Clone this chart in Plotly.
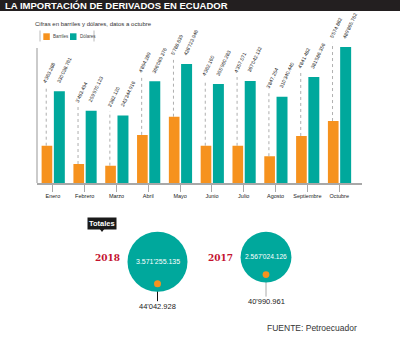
import math
import plotly.graph_objects as go

# ---------------- data ----------------
months = ["Enero", "Febrero", "Marzo", "Abril", "Mayo", "Junio", "Julio",
          "Agosto", "Septiembre", "Octubre"]
barriles = [4363.288, 3463.494, 3382.120, 4894.289, 5788.639, 4362.160,
            4357.071, 3847.254, 4841.482, 5574.882]          # miles de barriles
dolares = [330038.761, 259970.123, 243344.916, 366089.376, 428723.946,
           355960.283, 367042.132, 310340.440, 381586.356, 489865.762]  # miles de USD
barriles_lbl = ["4'363.288", "3'463.494", "3'382.120", "4'894.289", "5'788.639",
                "4'362.160", "4'357.071", "3'847.254", "4'841.482", "5'574.882"]
dolares_lbl = ["330'038.761", "259'970.123", "243'344.916", "366'089.376",
               "428'723.946", "355'960.283", "367'042.132", "310'340.440",
               "381'586.356", "489'865.762"]

years = ["2018", "2017"]
total_dolares = [3571255.135, 2567024.126]
total_barriles = [44042.928, 40990.961]
total_dol_lbl = ["3.571'255.135", "2.567'024.126"]
total_bar_lbl = ["44'042.928", "40'990.961"]

# ---------------- styling / layout constants ----------------
W, H = 400, 337
ORANGE = "#F6921E"
TEAL = "#00A89C"
RED = "#C4122F"
DARK = "#1a1a1a"
GREY = "#A8A8A8"
FONT = "Liberation Sans, Arial, sans-serif"


def px_x(x):
    return x / W


def px_y(y):
    return 1 - y / H


PLOT_L, PLOT_R, PLOT_T, PLOT_B = 37, 361.5, 40, 183
PH = PLOT_B - PLOT_T
Y_RANGE = [0, PH * 3600]
Y2_RANGE = [2530, 2530 + PH / 0.02035]


def dol_to_y2(d, extra_px=0.0):
    frac = (d - Y_RANGE[0]) / (Y_RANGE[1] - Y_RANGE[0])
    span2 = Y2_RANGE[1] - Y2_RANGE[0]
    return Y2_RANGE[0] + frac * span2 + extra_px * span2 / PH


fig = go.Figure()

fig.add_trace(go.Bar(
    x=months, y=barriles, name="Barriles", marker=dict(color=ORANGE, line=dict(width=0)),
    yaxis="y2", width=0.335, offset=-0.355, hoverinfo="skip", showlegend=False))
fig.add_trace(go.Bar(
    x=months, y=dolares, name="Dólares", marker=dict(color=TEAL, line=dict(width=0)),
    yaxis="y", width=0.345, offset=0.03, hoverinfo="skip", showlegend=False))

annotations = []
shapes = []

LBL_FONT = dict(family=FONT, size=5, color=DARK)
for m, b, d, bl, dl in zip(months, barriles, dolares, barriles_lbl, dolares_lbl):
    annotations.append(dict(x=m, y=d, xref="x", yref="y", text=dl, showarrow=False,
                            textangle=-65, xanchor="center", yanchor="bottom",
                            xshift=11, yshift=5, font=LBL_FONT))
    annotations.append(dict(x=m, y=d, xref="x", yref="y", text=bl, showarrow=False,
                            textangle=-65, xanchor="center", yanchor="bottom",
                            xshift=-3.5, yshift=5, font=LBL_FONT))
    shapes.append(dict(type="line", xref="x", yref="y2", x0=m, x1=m,
                       x0shift=-0.21, x1shift=-0.21,
                       y0=b, y1=dol_to_y2(d, 4),
                       line=dict(color="#9a9a9a", width=0.8, dash="dot"), layer="below"))

# y axis line
shapes.append(dict(type="line", xref="paper", yref="paper",
                   x0=px_x(PLOT_L), x1=px_x(PLOT_L), y0=px_y(PLOT_B), y1=px_y(48),
                   line=dict(color=GREY, width=1.2)))

# title band
shapes.append(dict(type="rect", xref="paper", yref="paper", x0=0, x1=1,
                   y0=px_y(11), y1=1, fillcolor="#231F20", line=dict(width=0), layer="below"))
annotations.append(dict(x=px_x(3), y=px_y(5.5), xref="paper", yref="paper",
                        text="<b>LA IMPORTACIÓN DE DERIVADOS EN ECUADOR</b>",
                        showarrow=False, xanchor="left", yanchor="middle",
                        font=dict(family=FONT, size=9.5, color="white")))
annotations.append(dict(x=px_x(33), y=px_y(24), xref="paper", yref="paper",
                        text="Cifras en barriles y dólares, datos a octubre",
                        showarrow=False, xanchor="left", yanchor="middle",
                        font=dict(family=FONT, size=6, color="#333333")))

# manual legend
for xl in (40, 94):
    shapes.append(dict(type="line", xref="paper", yref="paper", x0=px_x(xl), x1=px_x(xl),
                       y0=px_y(41.5), y1=px_y(30.5), line=dict(color=GREY, width=0.8)))
for x0, col, name in ((43.3, ORANGE, "Barriles"), (70, TEAL, "Dólares")):
    shapes.append(dict(type="rect", xref="paper", yref="paper", x0=px_x(x0), x1=px_x(x0 + 6.5),
                       y0=px_y(40), y1=px_y(33.3), fillcolor=col, line=dict(width=0)))
    annotations.append(dict(x=px_x(x0 + 8), y=px_y(36.8), xref="paper", yref="paper",
                            text=name, showarrow=False, xanchor="left", yanchor="middle",
                            font=dict(family=FONT, size=4.5, color="#444444")))

# ---------------- totals bubbles ----------------
# plotly area mode: diameter = sqrt(2 * v / sizeref)
BUB_DIAM = 60
sizeref_d = 2 * total_dolares[0] / BUB_DIAM ** 2
DOT_DIAM = 7
sizeref_b = 2 * total_barriles[0] / DOT_DIAM ** 2
TOP_Y3 = 337 - 231.7
radii = [math.sqrt(2 * v / sizeref_d) / 2 for v in total_dolares]
centers = [TOP_Y3 - r for r in radii]
dot_y = [c - (r - 8) for c, r in zip(centers, radii)]

fig.add_trace(go.Scatter(
    x=years, y=centers, mode="markers", xaxis="x3", yaxis="y3",
    marker=dict(size=total_dolares, sizemode="area", sizeref=sizeref_d,
                color=TEAL, opacity=1, line=dict(width=0)),
    hoverinfo="skip", showlegend=False, cliponaxis=False))
fig.add_trace(go.Scatter(
    x=years, y=dot_y, mode="markers", xaxis="x3", yaxis="y3",
    marker=dict(size=total_barriles, sizemode="area", sizeref=sizeref_b,
                color=ORANGE, opacity=1, line=dict(width=0)),
    hoverinfo="skip", showlegend=False, cliponaxis=False))

line_cols = ["#111111", "#AAAAAA"]
for i, (yr, c, r, dy, dl, bl, lc) in enumerate(zip(years, centers, radii, dot_y, total_dol_lbl,
                                                    total_bar_lbl, line_cols)):
    shapes.append(dict(type="line", xref="x3", yref="y3", x0=i, x1=i,
                       y0=dy, y1=c - 39.5, line=dict(color=lc, width=1), layer="below"))
    annotations.append(dict(x=i, y=c + 0.5, xref="x3", yref="y3", text=dl,
                            showarrow=False, xanchor="center", yanchor="middle",
                            font=dict(family=FONT, size=4.6 + r / 12.5, color="white")))
    annotations.append(dict(x=i, y=c - 44.5, xref="x3", yref="y3", text=bl,
                            showarrow=False, xanchor="center", yanchor="middle",
                            font=dict(family=FONT, size=7.5, color=DARK)))
    annotations.append(dict(x=i, y=337 - 258, xref="x3", yref="y3", text="<b>" + yr + "</b>",
                            showarrow=False, xanchor="center", yanchor="middle",
                            xshift=-(r + 20),
                            font=dict(family="DejaVu Serif, serif", size=9, color=RED)))

# "Totales" badge
annotations.append(dict(x=px_x(102), y=px_y(223.5), xref="paper", yref="paper",
                        text="<b>Totales</b>", showarrow=False, xanchor="center",
                        yanchor="middle", bgcolor="#1a1a1a", borderpad=1,
                        font=dict(family=FONT, size=7.5, color="white")))
shapes.append(dict(type="path", xref="paper", yref="paper",
                   path="M {} {} L {} {} L {} {} Z".format(px_x(99), px_y(228), px_x(105),
                                                          px_y(228), px_x(102), px_y(232)),
                   fillcolor="#1a1a1a", line=dict(width=0)))

# source
annotations.append(dict(x=px_x(265), y=px_y(328), xref="paper", yref="paper",
                        text="FUENTE: Petroecuador", showarrow=False, xanchor="left",
                        yanchor="middle", font=dict(family=FONT, size=8.5, color="#333333")))

fig.update_layout(
    width=W, height=H, margin=dict(l=0, r=0, t=0, b=0),
    paper_bgcolor="white", plot_bgcolor="white",
    barmode="overlay",
    font=dict(family=FONT),
    xaxis=dict(domain=[px_x(PLOT_L), px_x(PLOT_R)], type="category",
               categoryorder="array", categoryarray=months,
               showline=True, linecolor=GREY, linewidth=1.5,
               ticks="outside", ticklen=7, tickcolor=GREY, tickwidth=1,
               tickfont=dict(family=FONT, size=5.5, color=DARK),
               showgrid=False, zeroline=False, anchor="y"),
    yaxis=dict(domain=[px_y(PLOT_B), px_y(PLOT_T)], range=Y_RANGE, visible=False,
               showgrid=False, zeroline=False),
    yaxis2=dict(overlaying="y", range=Y2_RANGE, visible=False, showgrid=False,
                zeroline=False),
    xaxis3=dict(domain=[px_x(103.25), px_x(320.25)], type="category",
                categoryorder="array", categoryarray=years, range=[-0.5, 1.5],
                visible=False, anchor="y3"),
    yaxis3=dict(domain=[0, 122 / H], range=[0, 122], visible=False, anchor="x3"),
    shapes=shapes, annotations=annotations,
)

fig.write_html("out.html")
